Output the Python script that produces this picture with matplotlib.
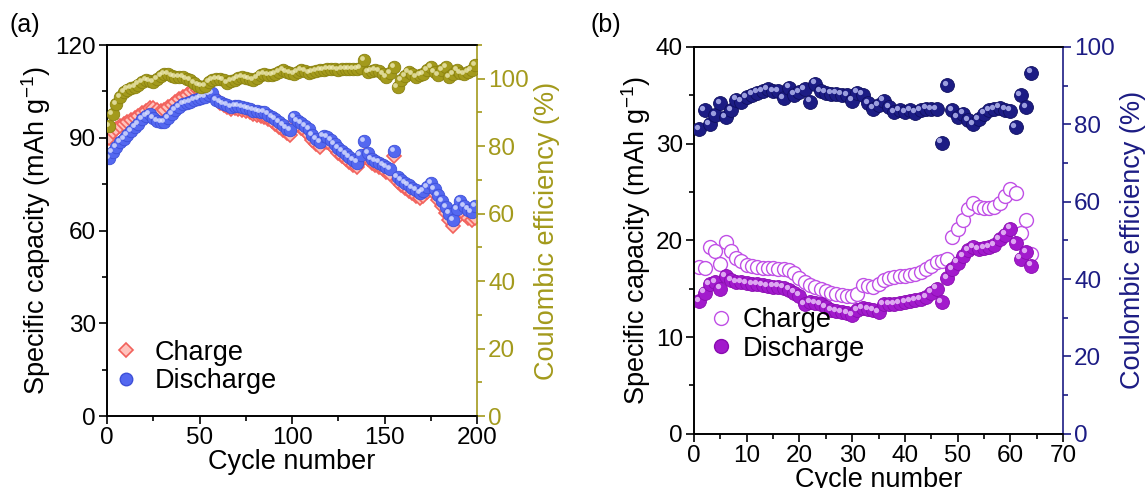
import matplotlib.pyplot as plt
import matplotlib.transforms as mtransforms
from matplotlib.lines import Line2D
from matplotlib.ticker import MultipleLocator

plt.rcParams['font.family'] = ['Liberation Sans', 'DejaVu Sans']
plt.rcParams['mathtext.fontset'] = 'custom'
plt.rcParams['mathtext.rm'] = 'Liberation Sans'
plt.rcParams['font.size'] = 17.5
plt.rcParams['axes.labelsize'] = 19.5

# ---------------- panel (a) data, read every second cycle ----------------
cycles_a = list(range(1, 200, 2))
discharge_a = [83.5, 85.5, 87.0, 88.5, 89.6, 91.0, 92.3, 93.5, 94.5, 96.0,
               97.0, 97.7, 96.5, 95.5, 95.2, 95.0, 96.3, 97.6, 99.0, 100.0,
               100.8, 101.2, 101.5, 102.2, 102.6, 103.0, 103.3, 104.0, 104.5, 102.3,
               101.5, 101.0, 100.5, 100.0, 100.4, 100.2, 99.9, 99.6, 99.2, 98.8,
               98.6, 98.4, 98.2, 97.5, 96.8, 96.0, 95.0, 94.0, 93.0, 92.5,
               96.6, 95.5, 94.8, 93.8, 92.7, 91.0, 89.5, 88.5, 90.5, 90.2,
               89.2, 88.0, 86.8, 85.8, 84.8, 83.8, 82.8, 82.0, 84.5, 89.0,
               85.0, 83.1, 82.5, 82.0, 81.2, 80.6, 79.8, 85.8, 77.2, 76.3,
               75.4, 74.6, 73.8, 73.0, 72.2, 72.8, 74.0, 75.4, 73.5, 71.5,
               69.5, 67.5, 65.5, 63.5, 67.0, 69.5, 68.0, 66.8, 66.0, 68.0]
charge_a = [90.0, 92.0, 93.0, 93.8, 94.5, 95.0, 95.8, 96.5, 97.0, 98.0,
            98.8, 99.5, 99.6, 99.0, 98.6, 99.0, 99.8, 100.5, 101.5, 102.5,
            103.2, 104.0, 104.8, 105.5, 105.3, 104.8, 104.5, 104.8, 103.8, 102.5,
            101.4, 100.6, 100.0, 99.4, 99.7, 99.4, 99.0, 98.7, 98.2, 97.8,
            97.5, 97.2, 96.8, 96.2, 95.5, 94.6, 93.6, 92.6, 91.6, 91.0,
            94.8, 94.0, 93.3, 92.2, 91.0, 89.4, 88.0, 87.0, 89.0, 88.6,
            87.6, 86.4, 85.2, 84.2, 83.2, 82.2, 81.2, 80.4, 82.5, 84.0,
            83.2, 82.0, 81.2, 80.6, 79.8, 79.0, 78.2, 84.0, 75.6, 74.8,
            73.8, 72.8, 72.0, 71.2, 70.6, 71.2, 72.4, 73.6, 71.8, 69.8,
            67.8, 65.8, 63.5, 61.5, 64.0, 66.5, 65.5, 64.2, 63.5, 64.0]
ce_a = [86.0, 89.6, 92.5, 94.5, 96.0, 96.8, 97.3, 97.6, 98.3, 99.0,
        99.5, 99.3, 99.0, 100.0, 100.8, 101.3, 101.5, 100.8, 100.4, 100.6,
        100.5, 100.0, 99.7, 98.8, 98.0, 97.7, 97.8, 99.0, 99.6, 99.8,
        100.0, 99.5, 98.8, 99.2, 99.6, 100.2, 100.5, 100.2, 99.8, 99.5,
        100.3, 101.2, 101.5, 101.2, 101.0, 101.4, 102.0, 102.5, 102.0, 101.6,
        101.5, 102.0, 102.5, 102.2, 101.8, 102.0, 102.3, 102.5, 102.5, 102.8,
        103.0, 102.8, 102.6, 103.0, 103.0, 102.8, 103.0, 103.0, 103.2, 105.5,
        102.0, 102.3, 102.5, 102.3, 101.5, 100.5, 101.8, 103.4, 97.5, 99.5,
        100.8, 102.0, 101.3, 100.5, 101.0, 101.5, 102.5, 103.4, 102.0, 101.0,
        102.5, 103.4, 100.5, 101.5, 102.5, 101.8, 101.5, 102.0, 102.5, 104.0]

# ---------------- panel (b) data, every cycle ----------------
cycles_b = list(range(1, 65))
charge_b = [17.3, 17.1, 19.3, 18.9, 17.6, 19.8, 18.9, 18.2, 17.9, 17.5,
            17.4, 17.2, 17.1, 17.1, 17.1, 17.0, 17.0, 16.9, 16.6, 16.1,
            15.7, 15.4, 15.2, 15.0, 14.8, 14.6, 14.5, 14.4, 14.3, 14.3,
            14.5, 15.4, 15.3, 15.2, 15.5, 15.9, 16.1, 16.2, 16.3, 16.3,
            16.4, 16.5, 16.7, 17.0, 17.4, 17.8, 17.9, 18.1, 20.4, 21.2,
            22.1, 23.2, 23.9, 23.5, 23.3, 23.3, 23.5, 23.9, 24.6, 25.3,
            24.9, 20.8, 22.1, 18.6]
discharge_b = [13.7, 14.6, 15.5, 15.7, 15.0, 16.3, 15.9, 15.7, 15.7, 15.6,
               15.5, 15.5, 15.4, 15.3, 15.2, 15.2, 15.1, 14.9, 14.6, 14.3,
               13.4, 13.6, 13.5, 13.4, 13.1, 12.8, 12.7, 12.6, 12.5, 12.3,
               12.8, 13.0, 12.9, 12.8, 12.6, 13.4, 13.4, 13.4, 13.5, 13.6,
               13.7, 13.8, 13.9, 14.1, 14.6, 15.0, 13.6, 16.1, 17.0, 17.7,
               18.4, 19.0, 19.3, 19.1, 19.2, 19.3, 19.5, 20.1, 20.6, 21.2,
               19.7, 18.1, 18.8, 17.4]
ce_b = [78.7, 83.7, 80.1, 82.3, 85.5, 81.9, 83.7, 86.4, 85.9, 87.0,
        87.7, 88.2, 88.6, 89.1, 88.6, 88.6, 86.8, 89.5, 87.7, 88.4,
        89.1, 85.9, 90.5, 88.5, 88.2, 87.9, 87.9, 87.7, 87.5, 86.1,
        88.2, 87.7, 85.5, 84.1, 85.0, 86.1, 84.5, 83.2, 83.7, 83.2,
        83.7, 83.0, 83.7, 84.1, 84.0, 83.9, 75.3, 90.2, 83.7, 81.9,
        82.8, 81.0, 80.1, 81.4, 82.8, 83.7, 84.0, 84.3, 83.8, 83.5,
        79.2, 87.6, 84.4, 93.4]

red = '#F2625C'
red_fill = '#FFC2BC'
blue = '#5468F0'
olive = '#A39A1C'
navy = '#1C1C84'
purple = '#A21ACC'
violet = '#C050E6'

fig = plt.figure(figsize=(11.46, 4.88), dpi=100)


def spheres(ax, x, y, color, edge, hl, ms, z):
    # shaded ball look: coloured disc plus a small light spot
    ax.plot(x, y, 'o', ms=ms, mfc=color, mec=edge, mew=0.6, ls='none', zorder=z)
    off = mtransforms.offset_copy(ax.transData, fig=fig, x=-ms * 0.17, y=ms * 0.17, units='points')
    ax.plot(x, y, 'o', ms=ms * 0.38, mfc=hl, mec='none', alpha=0.75, ls='none',
            transform=off, zorder=z + 0.1)


def style(ax, lw=1.2):
    for s in ax.spines.values():
        s.set_linewidth(lw)
    ax.tick_params(which='major', direction='out', length=6, width=lw, pad=2)
    ax.tick_params(which='minor', direction='out', length=3.5, width=lw)


# ================= panel (a) =================
ax = fig.add_axes([0.0934, 0.1475, 0.3229, 0.7602])
ax.plot(cycles_a, charge_a, 'D', ms=7.5, mfc=red_fill, mec=red, mew=1.2, ls='none', zorder=2)
spheres(ax, cycles_a, discharge_a, blue, '#3E50D8', '#E8ECFF', 9, 3)
ax.set_xlim(0, 200)
ax.set_ylim(0, 120)
ax.xaxis.set_major_locator(MultipleLocator(50))
ax.xaxis.set_minor_locator(MultipleLocator(25))
ax.yaxis.set_major_locator(MultipleLocator(30))
ax.yaxis.set_minor_locator(MultipleLocator(15))
ax.set_xlabel('Cycle number', labelpad=0)
ax.set_ylabel('Specific capacity (mAh g$^{\\mathregular{-1}}$)', labelpad=2)
ax.spines['right'].set_visible(False)
style(ax)

ax2 = ax.twinx()
spheres(ax2, cycles_a, ce_a, olive, '#8A8210', '#F4F0C0', 9, 3)
ax2.set_ylim(0, 110)
ax2.yaxis.set_minor_locator(MultipleLocator(10))
ax2.set_yticks(range(0, 101, 20))
ax2.set_ylabel('Coulombic efficiency (%)', color=olive, labelpad=4)
style(ax2)
ax2.spines['right'].set_color(olive)
ax2.tick_params(axis='y', which='both', colors=olive)

handles_a = [Line2D([], [], marker='D', ls='none', ms=7.5, mfc=red_fill, mec=red, mew=1.2),
             Line2D([], [], marker='o', ls='none', ms=9, mfc=blue, mec='#3E50D8')]
ax.legend(handles_a, ['Charge', 'Discharge'], loc='lower left', bbox_to_anchor=(-0.05, 0.0),
          frameon=False, handletextpad=0.45, labelspacing=0.1, borderpad=0.3,
          handlelength=1.2, fontsize=19.5)

# ================= panel (b) =================
bx = fig.add_axes([0.6056, 0.111, 0.322, 0.7927])
bx.plot(cycles_b, charge_b, 'o', ms=10, mfc='white', mec=violet, mew=1.0, ls='none', zorder=2)
spheres(bx, cycles_b, discharge_b, purple, '#8A0CB0', '#F3D8FF', 10, 3)
bx.set_xlim(0, 70)
bx.set_ylim(0, 40)
bx.xaxis.set_major_locator(MultipleLocator(10))
bx.xaxis.set_minor_locator(MultipleLocator(5))
bx.yaxis.set_major_locator(MultipleLocator(10))
bx.yaxis.set_minor_locator(MultipleLocator(5))
bx.set_xlabel('Cycle number', labelpad=0)
bx.set_ylabel('Specific capacity (mAh g$^{\\mathregular{-1}}$)', labelpad=2)
bx.spines['right'].set_visible(False)
style(bx)

bx2 = bx.twinx()
spheres(bx2, cycles_b, ce_b, navy, '#101060', '#C8CCFF', 10, 3)
bx2.set_ylim(0, 100)
bx2.yaxis.set_major_locator(MultipleLocator(20))
bx2.yaxis.set_minor_locator(MultipleLocator(10))
bx2.set_ylabel('Coulombic efficiency (%)', color=navy, labelpad=4)
style(bx2)
bx2.spines['right'].set_color(navy)
bx2.tick_params(axis='y', which='both', colors=navy)

handles_b = [Line2D([], [], marker='o', ls='none', ms=10, mfc='white', mec=violet, mew=1.0),
             Line2D([], [], marker='o', ls='none', ms=10, mfc=purple, mec='#8A0CB0')]
bx.legend(handles_b, ['Charge', 'Discharge'], loc='lower left', bbox_to_anchor=(-0.03, 0.13),
          frameon=False, handletextpad=0.2, labelspacing=0.1, borderpad=0.3,
          handlelength=1.2, fontsize=19.5)

fig.text(0.008, 0.935, '(a)', fontsize=18)
fig.text(0.515, 0.935, '(b)', fontsize=18)

fig.savefig('out.png', dpi=100)
